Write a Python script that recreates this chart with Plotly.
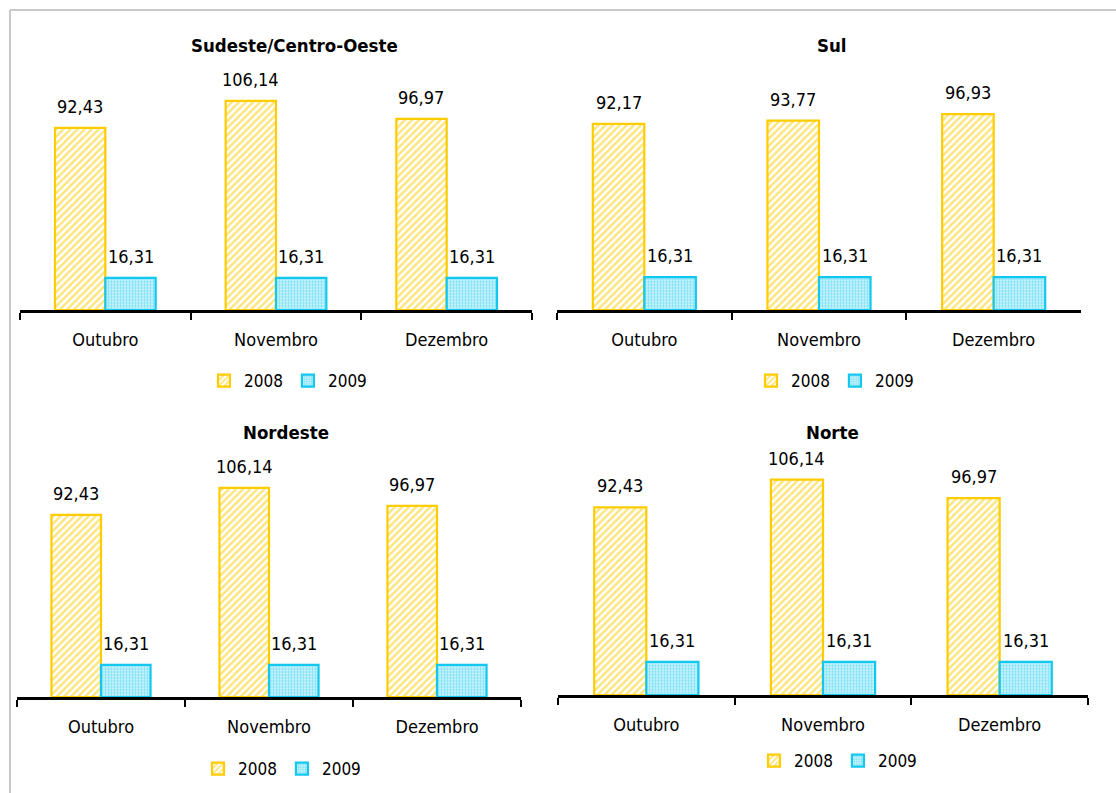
import plotly.graph_objects as go

W, H = 1116, 793

categories = ["Outubro", "Novembro", "Dezembro"]
series_names = ["2008", "2009"]
regions = ["Sudeste/Centro-Oeste", "Sul", "Nordeste", "Norte"]

sudeste_2008 = [92.43, 106.14, 96.97]
sudeste_2009 = [16.31, 16.31, 16.31]
sul_2008 = [92.17, 93.77, 96.93]
sul_2009 = [16.31, 16.31, 16.31]
nordeste_2008 = [92.43, 106.14, 96.97]
nordeste_2009 = [16.31, 16.31, 16.31]
norte_2008 = [92.43, 106.14, 96.97]
norte_2009 = [16.31, 16.31, 16.31]

data = [
    (sudeste_2008, sudeste_2009),
    (sul_2008, sul_2009),
    (nordeste_2008, nordeste_2009),
    (norte_2008, norte_2009),
]

FONT = "DejaVu Sans Condensed, DejaVu Sans, sans-serif"
YELLOW = "#FFCC00"
CYAN = "#12C8F0"

# panel geometry in pixels: x0, x1, axis y, px per unit, title (x, y), legend (x, y)
panels = [
    dict(x0=20, x1=532, ay=310, ppu=1.97, tx=294, ty=46, lx=288, ly=381),
    dict(x0=557, x1=1081, ay=310, ppu=2.02, tx=832, ty=46, lx=835, ly=381),
    dict(x0=17, x1=521, ay=697, ppu=1.97, tx=286, ty=432, lx=282, ly=769),
    dict(x0=558, x1=1088, ay=695, ppu=2.03, tx=832, ty=432, lx=838, ly=761),
]
YMAX = 120
BARGAP = 0.41

fig = go.Figure()
layout = dict(
    width=W, height=H,
    margin=dict(l=0, r=0, t=0, b=0),
    paper_bgcolor="white", plot_bgcolor="rgba(0,0,0,0)",
    barmode="group", bargap=BARGAP, bargroupgap=0,
    font=dict(family=FONT, color="black"),
    showlegend=True,
)
annotations = []
off = (1 - BARGAP) / 4

for i, (p, region, (v08, v09)) in enumerate(zip(panels, regions, data), start=1):
    xa = "x" if i == 1 else f"x{i}"
    ya = "y" if i == 1 else f"y{i}"
    leg = "legend" if i == 1 else f"legend{i}"
    for name, vals, col, shape in [
        (series_names[0], v08, YELLOW, "/"),
        (series_names[1], v09, CYAN, "."),
    ]:
        pattern = dict(shape=shape, fgcolor=col, bgcolor="white",
                       size=5 if shape == "/" else 3,
                       solidity=0.5 if shape == "/" else 0.75)
        fig.add_trace(go.Bar(
            x=categories, y=vals, name=name, xaxis=xa, yaxis=ya, legend=leg,
            marker=dict(color="white", pattern=pattern,
                        line=dict(color=col, width=2.2)),
            hoverinfo="skip",
        ))
    for j, (vals, sgn) in enumerate([(v08, -1), (v09, 1)]):
        for k, v in enumerate(vals):
            annotations.append(dict(
                x=k + sgn * off, y=v, xref=xa, yref=ya,
                text=f"{v:.2f}".replace(".", ","), showarrow=False,
                yanchor="bottom", yshift=9,
                font=dict(size=18, family=FONT, color="black"),
            ))
    annotations.append(dict(
        x=p["tx"] / W, y=1 - p["ty"] / H, xref="paper", yref="paper",
        text=f"<b>{region}</b>", showarrow=False, xanchor="center", yanchor="middle",
        font=dict(size=18.5, family=FONT, color="black"),
    ))
    y0 = 1 - p["ay"] / H
    y1 = 1 - (p["ay"] - YMAX * p["ppu"]) / H
    layout["xaxis" if i == 1 else f"xaxis{i}"] = dict(
        domain=[p["x0"] / W, p["x1"] / W], anchor=ya, type="category",
        showline=True, linecolor="black", linewidth=3,
        ticks="outside", tickson="boundaries", ticklen=7, tickwidth=2, tickcolor="black",
        tickfont=dict(size=18, family=FONT, color="black"),
        ticklabelstandoff=11,
        showgrid=False, zeroline=False, fixedrange=True,
    )
    layout["yaxis" if i == 1 else f"yaxis{i}"] = dict(
        domain=[y0, y1], anchor=xa, range=[0, YMAX], visible=False,
        showgrid=False, zeroline=False, fixedrange=True,
    )
    layout[leg] = dict(
        orientation="h", x=p["lx"] / W, y=1 - p["ly"] / H,
        xanchor="center", yanchor="middle", bgcolor="rgba(0,0,0,0)",
        font=dict(size=17, family=FONT, color="black"),
        itemclick=False, itemdoubleclick=False, itemwidth=30,
    )

layout["annotations"] = annotations
layout["shapes"] = [
    dict(type="line", xref="paper", yref="paper", x0=10 / W, x1=1, y0=1 - 10 / H, y1=1 - 10 / H,
         line=dict(color="#C8C8C8", width=2)),
    dict(type="line", xref="paper", yref="paper", x0=10 / W, x1=10 / W, y0=0, y1=1 - 10 / H,
         line=dict(color="#C8C8C8", width=2)),
]
fig.update_layout(**layout)
fig.write_html(
    "out.html",
    config=dict(displayModeBar=False),
    post_script="document.body.style.margin='0';document.body.style.padding='0';",
)
